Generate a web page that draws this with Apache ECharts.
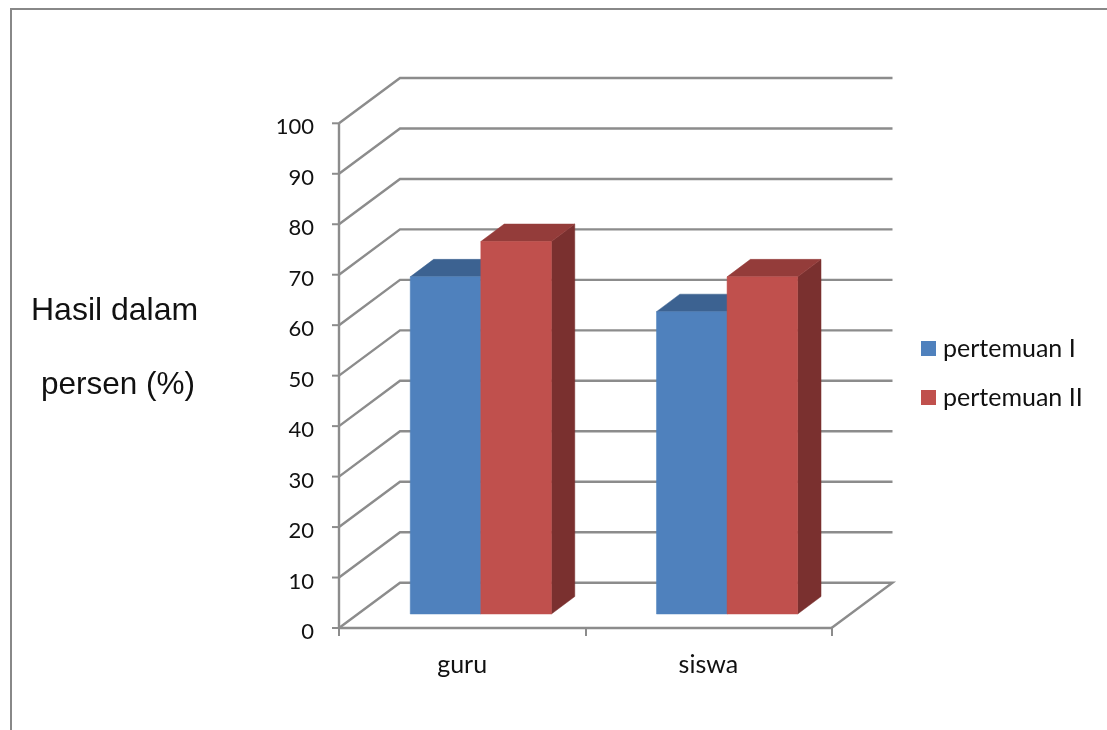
<!DOCTYPE html>
<html>
<head>
<meta charset="utf-8">
<style>
  html, body { margin: 0; padding: 0; background: #fff; }
  #chart { width: 1107px; height: 730px; }
</style>
<script src="https://cdn.jsdelivr.net/npm/echarts@6/dist/echarts.min.js"></script>
</head>
<body>
<div id="chart"></div>
<script>
// Pertemuan results per group, in percent
const categories = ['guru', 'siswa'];
const seriesNames = ['pertemuan I', 'pertemuan II'];
const pertemuan1 = [66.8, 59.9];
const pertemuan2 = [73.8, 66.8];
const wallTicks = [0, 10, 20, 30, 40, 50, 60, 70, 80, 90, 100];
const yAxisTitle = ['Hasil dalam', 'persen (%)'];

// Oblique projection used for the pseudo-3D look, in pixels
const WALL_DX = 61, WALL_DY = 45.3;
const BAR_NEAR = 14, BAR_FAR = 31.5;
const BAR_RATIO = 0.2866;
const skewX = 60.5 / WALL_DY;
const TICK_LEN = 7;

const FRONT = ['#4f81bd', '#c0504d'];
const TOP = ['#3c6291', '#943c3a'];
const SIDE = ['#325378', '#7a302f'];
const LINE = '#8c8c8c';
const INK = '#111111';

// Each tick value gives a wall line, its outward tick, and a stretch of the front vertical edge
function renderWall(params, api) {
  const v = api.value(0);
  const sys = params.coordSys;
  const p = api.coord([0, v]);
  const left = sys.x, right = sys.x + sys.width;
  const back = p[1] - WALL_DY;
  const stroke = (points, width) => ({
    type: 'polyline',
    silent: true,
    shape: { points: points },
    style: { stroke: LINE, lineWidth: width, fill: null }
  });
  const children = [
    stroke(v === 0
      ? [[left, p[1]], [left + WALL_DX, back], [right + WALL_DX, back], [right, p[1]]]
      : [[left, p[1]], [left + WALL_DX, back], [right + WALL_DX, back]], 2.4),
    stroke([[left - TICK_LEN, p[1]], [left, p[1]]], 2)
  ];
  if (v === 0) {
    const top = api.coord([0, wallTicks[wallTicks.length - 1]]);
    children.push(stroke([[left, top[1]], [left, p[1]]], 2.4));
  }
  return { type: 'group', children: children };
}

function barRenderer(seriesIndex) {
  return function (params, api) {
    const cat = api.value(0), v = api.value(1);
    const band = api.size([1, 0])[0];
    const w = band * BAR_RATIO;
    const base = api.coord([cat, 0]);
    const top = api.coord([cat, v]);
    const near = BAR_NEAR * skewX;
    const depthX = (BAR_FAR - BAR_NEAR) * skewX;
    const depthY = BAR_FAR - BAR_NEAR;
    const x0 = base[0] + near + (seriesIndex - 1) * w;
    const x1 = x0 + w;
    const y0 = base[1] - BAR_NEAR;
    const y1 = top[1] - BAR_NEAR;
    const poly = (pts, fill) => ({
      type: 'polygon',
      shape: { points: pts },
      style: { fill: fill, stroke: fill, lineWidth: 0.5 }
    });
    return {
      type: 'group',
      children: [
        poly([[x1, y0], [x1 + depthX, y0 - depthY], [x1 + depthX, y1 - depthY], [x1, y1]], SIDE[seriesIndex]),
        poly([[x0, y1], [x0 + depthX, y1 - depthY], [x1 + depthX, y1 - depthY], [x1, y1]], TOP[seriesIndex]),
        poly([[x0, y0], [x1, y0], [x1, y1], [x0, y1]], FRONT[seriesIndex])
      ]
    };
  };
}

const pairs = vals => vals.map((v, i) => [i, v]);

const chart = echarts.init(document.getElementById('chart'), null, { renderer: 'canvas' });
chart.setOption({
  animation: false,
  backgroundColor: '#ffffff',
  grid: { left: 339, top: 123.3, width: 492.5, height: 504.7 },
  graphic: [
    {
      type: 'polyline', silent: true,
      shape: { points: [[11, 730], [11, 9], [1107, 9]] },
      style: { stroke: '#888888', lineWidth: 2, fill: null }
    },
    {
      type: 'text', left: 31, top: 295,
      style: { text: yAxisTitle[0], font: '32px "Liberation Sans"', fill: INK }
    },
    {
      type: 'text', left: 41, top: 369,
      style: { text: yAxisTitle[1], font: '31.5px "Liberation Sans"', fill: INK }
    }
  ],
  legend: {
    left: 921, top: 336, orient: 'vertical', itemGap: 24, padding: 0,
    itemWidth: 15, itemHeight: 15, icon: 'rect', selectedMode: false,
    data: seriesNames,
    textStyle: { fontFamily: 'Lato', fontSize: 25, lineHeight: 25, color: INK, padding: [0, 0, 0, 2] }
  },
  xAxis: {
    type: 'category', data: categories, boundaryGap: true,
    axisLine: { onZero: false, lineStyle: { color: LINE, width: 2.4 } },
    axisTick: { show: true, length: 8, lineStyle: { color: LINE, width: 2 } },
    axisLabel: { fontFamily: 'Lato', fontSize: 25, color: INK, margin: 24 },
    splitLine: { show: false }
  },
  yAxis: {
    type: 'value', min: 0, max: 100, interval: 10,
    axisLine: { show: false },
    axisTick: { show: false },
    axisLabel: { fontFamily: 'Lato', fontSize: 22, lineHeight: 8, verticalAlign: 'top', color: INK, margin: 25 },
    splitLine: { show: false }
  },
  series: [
    {
      name: 'walls', type: 'custom', renderItem: renderWall, silent: true,
      encode: { y: 0 }, data: wallTicks.map(v => [v]), z: 1,
      legendHoverLink: false, tooltip: { show: false }
    },
    {
      name: seriesNames[0], type: 'custom', renderItem: barRenderer(0),
      encode: { x: 0, y: 1 }, data: pairs(pertemuan1), itemStyle: { color: FRONT[0] }, z: 2
    },
    {
      name: seriesNames[1], type: 'custom', renderItem: barRenderer(1),
      encode: { x: 0, y: 1 }, data: pairs(pertemuan2), itemStyle: { color: FRONT[1] }, z: 3
    }
  ]
});
</script>
</body>
</html>
